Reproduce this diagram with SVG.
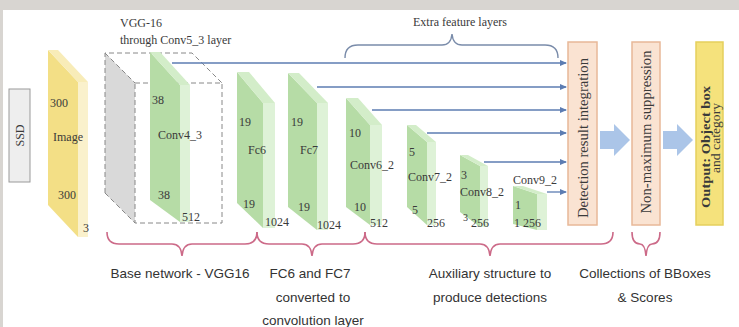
<svg xmlns="http://www.w3.org/2000/svg" width="739" height="327" viewBox="0 0 739 327">
<style>
.lbl{font-family:"Liberation Serif","Times New Roman",serif;font-size:12px;fill:#3a3a3a}
.big{font-family:"Liberation Serif","Times New Roman",serif;font-size:14px;fill:#3a3a3a}
.hand{font-family:"Liberation Sans",Arial,sans-serif;font-size:13.5px;fill:#333}
.gf{fill:#b6dca6}.gt{fill:#d3edc9}.gs{fill:#def2d7}
.conn{stroke:#5c7cb2;stroke-width:1.3;fill:none}
.brace{stroke:#cc6a88;stroke-width:1.6;fill:none}
.block{fill:#abc5e8}
.proc{fill:#fae3d2;stroke:#e8b898;stroke-width:1.5}
</style>
<defs>
<marker id="ah" markerWidth="7" markerHeight="6" refX="6" refY="3" orient="auto" markerUnits="userSpaceOnUse">
<path d="M0,0 L7,3 L0,6 Z" fill="#5c7cb2"/>
</marker>
</defs>
<rect x="0" y="0" width="739" height="327" fill="#ffffff"/>
<rect x="0" y="0" width="739" height="10" fill="#d8d5d1"/>
<rect x="0" y="0" width="3" height="327" fill="#d8d5d1"/>

<g id="ssd">
<rect x="9" y="89" width="21" height="93" fill="#eeeeee" stroke="#9a9a9a" stroke-width="1"/>
<text class="lbl" transform="translate(23.5,135.5) rotate(-90)" text-anchor="middle">SSD</text>
</g>

<g id="image">
<polygon points="48,50 78,82 78,237 48,205" fill="#f3df86"/>
<polygon points="48,50 58,50 88,82 78,82" fill="#f8ecb8"/>
<polygon points="78,82 88,82 88,237 78,237" fill="#faf1cc"/>
<text class="lbl" x="50" y="107">300</text>
<text class="lbl" x="53" y="141">Image</text>
<text class="lbl" x="58" y="199">300</text>
<text class="lbl" x="83" y="232">3</text>
</g>

<g id="vgg16">
<text class="lbl" x="120" y="27">VGG-16</text>
<text class="lbl" x="120" y="44">through Conv5_3 layer</text>
<polygon points="105,53 135,83 135,223 105,193" fill="#d9d9d9"/>
<g stroke="#888" stroke-width="1" stroke-dasharray="5,3" fill="none">
<path d="M105,193 L105,53 L192,53 L222,83"/>
<path d="M105,53 L135,83"/>
<path d="M105,193 L135,223"/>
<rect x="135" y="83" width="87" height="140"/>
</g>
</g>

<g id="connectors">
<line class="conn" x1="172" y1="63" x2="566" y2="63" marker-end="url(#ah)"/>
<line class="conn" x1="317" y1="87" x2="566" y2="87" marker-end="url(#ah)"/>
<line class="conn" x1="372" y1="110" x2="566" y2="110" marker-end="url(#ah)"/>
<line class="conn" x1="427" y1="133" x2="566" y2="133" marker-end="url(#ah)"/>
<line class="conn" x1="484" y1="162" x2="566" y2="162" marker-end="url(#ah)"/>
<line class="conn" x1="547" y1="192" x2="566" y2="192" marker-end="url(#ah)"/>
<path d="M600,131 L614,131 L614,124 L630,140 L614,156 L614,149 L600,149 Z" class="block"/>
<path d="M663,131 L677,131 L677,124 L693,140 L677,156 L677,149 L663,149 Z" class="block"/>
</g>

<g id="conv4_3">
<polygon class="gf" points="150,52 180,85 180,222 150,200"/>
<polygon class="gt" points="150,52 160,52 190,85 180,85"/>
<polygon class="gs" points="180,85 190,85 190,222 180,222"/>
<text class="lbl" x="152" y="104">38</text>
<text class="lbl" x="158" y="139">Conv4_3</text>
<text class="lbl" x="158" y="199">38</text>
<text class="lbl" x="182" y="221">512</text>
</g>

<g id="fc6">
<polygon class="gf" points="237,72 263,103 263,228 237,203"/>
<polygon class="gt" points="237,72 249,72 275,103 263,103"/>
<polygon class="gs" points="263,103 275,103 275,228 263,228"/>
<text class="lbl" x="239" y="126">19</text>
<text class="lbl" x="248" y="154">Fc6</text>
<text class="lbl" x="243" y="208">19</text>
<text class="lbl" x="265" y="226">1024</text>
</g>

<g id="fc7">
<polygon class="gf" points="288,73 317,103 317,230 288,207"/>
<polygon class="gt" points="288,73 299,73 328,103 317,103"/>
<polygon class="gs" points="317,103 328,103 328,230 317,230"/>
<text class="lbl" x="291" y="126">19</text>
<text class="lbl" x="300" y="154">Fc7</text>
<text class="lbl" x="298" y="211">19</text>
<text class="lbl" x="317" y="229">1024</text>
</g>

<g id="conv6_2">
<polygon class="gf" points="346,98 370,125 370,225 346,207"/>
<polygon class="gt" points="346,98 358,98 382,125 370,125"/>
<polygon class="gs" points="370,125 382,125 382,225 370,225"/>
<text class="lbl" x="349" y="137">10</text>
<text class="lbl" x="350" y="169">Conv6_2</text>
<text class="lbl" x="354" y="211">10</text>
<text class="lbl" x="370" y="227">512</text>
</g>

<g id="conv7_2">
<polygon class="gf" points="407,125 427,142 427,225 407,207"/>
<polygon class="gt" points="407,125 416,125 436,142 427,142"/>
<polygon class="gs" points="427,142 436,142 436,225 427,225"/>
<text class="lbl" x="409" y="156">5</text>
<text class="lbl" x="408" y="181">Conv7_2</text>
<text class="lbl" x="412" y="214">5</text>
<text class="lbl" x="427" y="227">256</text>
</g>

<g id="conv8_2">
<polygon class="gf" points="460,155 480,166 480,227 460,212"/>
<polygon class="gt" points="460,155 468,155 488,166 480,166"/>
<polygon class="gs" points="480,166 488,166 488,227 480,227"/>
<text class="lbl" x="461" y="179">3</text>
<text class="lbl" x="460" y="196">Conv8_2</text>
<text class="lbl" x="463" y="221" style="font-size:10px">3</text>
<text class="lbl" x="471" y="227">256</text>
</g>

<g id="conv9_2">
<polygon class="gf" points="513,186 537,194 537,230 513,224"/>
<polygon class="gt" points="513,186 523,186 547,194 537,194"/>
<polygon class="gs" points="537,194 547,194 547,230 537,230"/>
<text class="lbl" x="513" y="184">Conv9_2</text>
<text class="lbl" x="515" y="209">1</text>
<text class="lbl" x="514" y="227">1 256</text>
</g>

<g id="extra-features">
<text class="lbl" x="460" y="26" text-anchor="middle">Extra feature layers</text>
<path d="M345,58 Q345,45 358,45 L442,45 Q451,45 452,34 Q453,45 462,45 L545,45 Q558,45 558,58" stroke="#7a8caa" stroke-width="1.4" fill="none"/>
</g>

<g id="detection">
<rect class="proc" x="568" y="42" width="29" height="183"/>
<text class="big" transform="translate(588,138) rotate(-90)" text-anchor="middle" textLength="160" lengthAdjust="spacingAndGlyphs">Detection result integration</text>
</g>

<g id="nms">
<rect class="proc" x="632" y="42" width="28" height="183"/>
<text class="big" transform="translate(651,132) rotate(-90)" text-anchor="middle" textLength="163" lengthAdjust="spacingAndGlyphs">Non-maximum suppression</text>
</g>

<g id="output">
<rect x="696" y="42" width="27" height="183" fill="#f5e27c" stroke="#e5cf5c" stroke-width="1.5"/>
<text class="big" transform="translate(710,147) rotate(-90)" text-anchor="middle" style="font-size:13px;font-weight:bold" textLength="122" lengthAdjust="spacingAndGlyphs">Output: Object box</text>
<text class="big" transform="translate(720,138) rotate(-90)" text-anchor="middle" style="font-size:13px" textLength="70" lengthAdjust="spacingAndGlyphs">and category</text>
</g>

<g id="braces">
<path class="brace" d="M107,232 Q107,244 119,244 L172,244 Q181,244 182,256 Q183,244 192,244 L245,244 Q257,244 257,232"/>
<path class="brace" d="M257,232 Q257,244 269,244 L302,244 Q311,244 312,256 Q313,244 322,244 L353,244 Q365,244 365,232"/>
<path class="brace" d="M365,232 Q365,244 377,244 L480,244 Q489,244 490,256 Q491,244 500,244 L601,244 Q613,244 613,232"/>
<path class="brace" d="M632,232 Q632,244 640,244 Q645,244 646,256 Q647,244 652,244 Q660,244 660,232"/>
</g>

<g id="captions">
<text class="hand" x="180" y="278" text-anchor="middle">Base network - VGG16</text>
<text class="hand" x="310" y="278" text-anchor="middle">FC6 and FC7</text>
<text class="hand" x="313" y="302" text-anchor="middle">converted to</text>
<text class="hand" x="313" y="325" text-anchor="middle">convolution layer</text>
<text class="hand" x="490" y="278" text-anchor="middle">Auxiliary structure to</text>
<text class="hand" x="490" y="302" text-anchor="middle">produce detections</text>
<text class="hand" x="645" y="278" text-anchor="middle">Collections of BBoxes</text>
<text class="hand" x="645" y="302" text-anchor="middle">&amp; Scores</text>
</g>
</svg>
